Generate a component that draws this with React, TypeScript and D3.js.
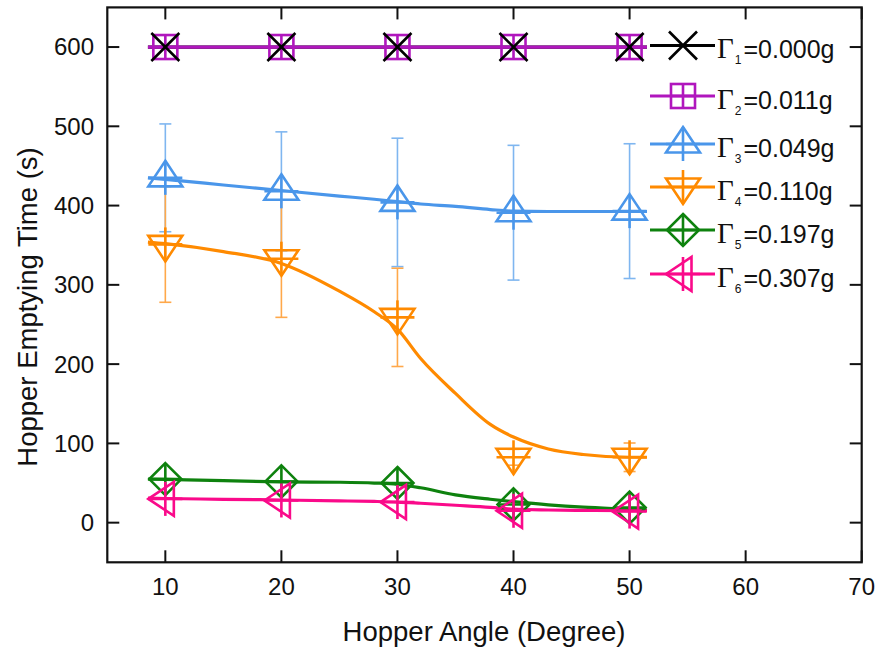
import React from "react";
import * as d3 from "d3";

// ---------- data ----------
const angles = [10, 20, 30, 40, 50];
const gamma1 = [600, 600, 600, 600, 600];
const gamma2 = [600, 600, 600, 600, 600];
const gamma3 = [435, 418, 404, 391, 393];
const gamma3Err = [68, 75, 81, 85, 85];
const gamma4 = [351, 333, 259, 82.5, 82.5];
const gamma4Err = [73, 74, 62, 10, 18];
const gamma5 = [55, 52, 50, 23, 19];
const gamma6 = [30, 28, 26, 15, 14];

// fitted curves
const fitAngles = [8.5, 10, 15, 20, 25, 28, 30, 32, 35, 38, 40, 43, 46, 50, 51.5];
const fit1 = [600, 600, 600, 600, 600, 600, 600, 600, 600, 600, 600, 600, 600, 600, 600];
const fit2 = [600, 600, 600, 600, 600, 600, 600, 600, 600, 600, 600, 600, 600, 600, 600];
const fit3 = [435, 433, 426, 419, 412, 408, 405, 402, 399, 395, 393, 392.5, 392.5, 392.5, 392.5];
const fit4 = [354, 352, 342, 327, 292, 266, 244, 207, 163, 124, 108, 93, 86, 82.5, 82.5];
const fit5 = [55, 54.5, 53, 51.5, 51, 50, 48.4, 44, 35, 29.5, 26.5, 22.5, 19.5, 17, 16];
const fit6 = [31, 30.5, 29.5, 28.6, 27.5, 26.8, 26, 24.5, 22, 19.4, 17, 16, 15.5, 15, 15];

const xTicks = [10, 20, 30, 40, 50, 60, 70];
const yTicks = [0, 100, 200, 300, 400, 500, 600];
const legendSubs = ["1", "2", "3", "4", "5", "6"];
const legendValues = ["=0.000g", "=0.011g", "=0.049g", "=0.110g", "=0.197g", "=0.307g"];

const xTitle = "Hopper Angle (Degree)";
const yTitle = "Hopper Emptying Time (s)";

// ---------- layout ----------
const W = 877;
const H = 648;
const left = 107.3;
const right = 861.7;
const top = 7.4;
const bottom = 562.3;
const legendRowY = [45.5, 96, 144, 187, 230, 274];
const SANS = "'Liberation Sans', Arial, sans-serif";
const SERIF = "'Liberation Serif', 'Times New Roman', serif";

type Shape = "x" | "square" | "up" | "down" | "diamond" | "left";

const series = [
  { values: gamma1, fit: fit1, err: null as number[] | null, color: "#000000", errColor: "", shape: "x" as Shape },
  { values: gamma2, fit: fit2, err: null, color: "#b016bd", errColor: "", shape: "square" as Shape },
  { values: gamma3, fit: fit3, err: gamma3Err, color: "#4a96ea", errColor: "#7fb6f0", shape: "up" as Shape },
  { values: gamma4, fit: fit4, err: gamma4Err, color: "#ff8a00", errColor: "#ffa84a", shape: "down" as Shape },
  { values: gamma5, fit: fit5, err: null, color: "#0e820e", errColor: "", shape: "diamond" as Shape },
  { values: gamma6, fit: fit6, err: null, color: "#fa0a8a", errColor: "", shape: "left" as Shape },
];

function Marker({ shape, x, y, color }: { shape: Shape; x: number; y: number; color: string }) {
  const sw = 2.6;
  const common = { fill: "none", stroke: color, strokeWidth: sw, strokeLinejoin: "miter" as const };
  if (shape === "x") {
    const r = 14;
    return (
      <g transform={`translate(${x},${y})`}>
        <line x1={-r} y1={-r} x2={r} y2={r} {...common} />
        <line x1={-r} y1={r} x2={r} y2={-r} {...common} />
      </g>
    );
  }
  if (shape === "square") {
    const r = 12;
    return (
      <g transform={`translate(${x},${y})`}>
        <rect x={-r} y={-r} width={2 * r} height={2 * r} {...common} />
        <line x1={-r} y1={0} x2={r} y2={0} {...common} />
        <line x1={0} y1={-r} x2={0} y2={r} {...common} />
      </g>
    );
  }
  const R = shape === "diamond" ? 16 : 17;
  let pts: [number, number][] = [];
  if (shape === "up") pts = [[0, -R], [R, R / 2], [-R, R / 2]];
  if (shape === "down") pts = [[0, R], [R, -R / 2], [-R, -R / 2]];
  if (shape === "diamond") pts = [[0, -R], [R, 0], [0, R], [-R, 0]];
  if (shape === "left") pts = [[-R, 0], [R / 2, -R], [R / 2, R]];
  return (
    <g transform={`translate(${x},${y})`}>
      <polygon points={pts.map((p) => p.join(",")).join(" ")} {...common} />
      <line x1={-R} y1={0} x2={R} y2={0} {...common} />
      <line x1={0} y1={-R} x2={0} y2={R} {...common} />
    </g>
  );
}

export default function App() {
  const x = d3.scaleLinear().domain([5, 70]).range([left, right]);
  const y = d3.scaleLinear().domain([-50, 650]).range([bottom, top]);

  const line = d3
    .line<[number, number]>()
    .x((d) => x(d[0]))
    .y((d) => y(d[1]))
    .curve(d3.curveMonotoneX);

  const tickLen = 12;
  const capHalf = 6;

  return (
    <div style={{ position: "absolute", left: 0, top: 0, width: W, height: H, background: "#fff" }}>
      <svg width={W} height={H} style={{ display: "block" }}>
        <rect x={0} y={0} width={W} height={H} fill="#fff" />

        {/* error bars */}
        {series.map((s, si) =>
          s.err ? (
            <g key={`err${si}`} stroke={s.errColor} strokeWidth={1.6} fill="none">
              {angles.map((a, i) => {
                const cx = x(a);
                const y1 = y(s.values[i] + s.err![i]);
                const y2 = y(s.values[i] - s.err![i]);
                return (
                  <g key={i}>
                    <line x1={cx} x2={cx} y1={y1} y2={y2} />
                    <line x1={cx - capHalf} x2={cx + capHalf} y1={y1} y2={y1} />
                    <line x1={cx - capHalf} x2={cx + capHalf} y1={y2} y2={y2} />
                  </g>
                );
              })}
            </g>
          ) : null
        )}

        {/* fit lines */}
        {series.map((s, si) => (
          <path
            key={`fit${si}`}
            d={line(fitAngles.map((a, i) => [a, s.fit[i]] as [number, number])) || ""}
            fill="none"
            stroke={s.color}
            strokeWidth={3.2}
          />
        ))}

        {/* markers */}
        {[1, 0, 2, 3, 4, 5].map((si) => {
          const s = series[si];
          return (
            <g key={`m${si}`}>
              {angles.map((a, i) => (
                <Marker key={i} shape={s.shape} x={x(a)} y={y(s.values[i])} color={s.color} />
              ))}
            </g>
          );
        })}

        {/* frame */}
        <rect x={left} y={top} width={right - left} height={bottom - top} fill="none" stroke="#111" strokeWidth={2.2} />

        {/* ticks */}
        <g stroke="#111" strokeWidth={2}>
          {xTicks.map((t) => (
            <g key={`xt${t}`}>
              <line x1={x(t)} x2={x(t)} y1={bottom} y2={bottom - tickLen} />
              <line x1={x(t)} x2={x(t)} y1={top} y2={top + tickLen} />
            </g>
          ))}
          {yTicks.map((t) => (
            <g key={`yt${t}`}>
              <line x1={left} x2={left + tickLen} y1={y(t)} y2={y(t)} />
              <line x1={right} x2={right - tickLen} y1={y(t)} y2={y(t)} />
            </g>
          ))}
        </g>

        {/* tick labels */}
        <g fontFamily={SANS} fontSize={24} fill="#111">
          {xTicks.map((t) => (
            <text key={`xl${t}`} x={x(t)} y={595} textAnchor="middle">
              {t}
            </text>
          ))}
          {yTicks.map((t) => (
            <text key={`yl${t}`} x={94} y={y(t) + 8.4} textAnchor="end">
              {t}
            </text>
          ))}
        </g>

        {/* axis titles */}
        <text x={484} y={641} textAnchor="middle" fontFamily={SANS} fontSize={27.5} fill="#111">
          {xTitle}
        </text>
        <text
          transform={`translate(36.5,307) rotate(-90)`}
          textAnchor="middle"
          fontFamily={SANS}
          fontSize={27.5}
          fill="#111"
        >
          {yTitle}
        </text>

        {/* legend */}
        {series.map((s, i) => {
          const ly = legendRowY[i];
          return (
            <g key={`lg${i}`}>
              <line x1={650} x2={715} y1={ly} y2={ly} stroke={s.color} strokeWidth={3.2} />
              <Marker shape={s.shape} x={683} y={ly} color={s.color} />
              <text x={717} y={ly + 12.8} fill="#111">
                <tspan fontFamily={SERIF} fontSize={29}>Γ</tspan>
                <tspan fontFamily={SANS} fontSize={12} dy={6} dx={1}>
                  {legendSubs[i]}
                </tspan>
                <tspan fontFamily={SANS} fontSize={25} dy={-6} dx={2}>
                  {legendValues[i]}
                </tspan>
              </text>
            </g>
          );
        })}
      </svg>
    </div>
  );
}
